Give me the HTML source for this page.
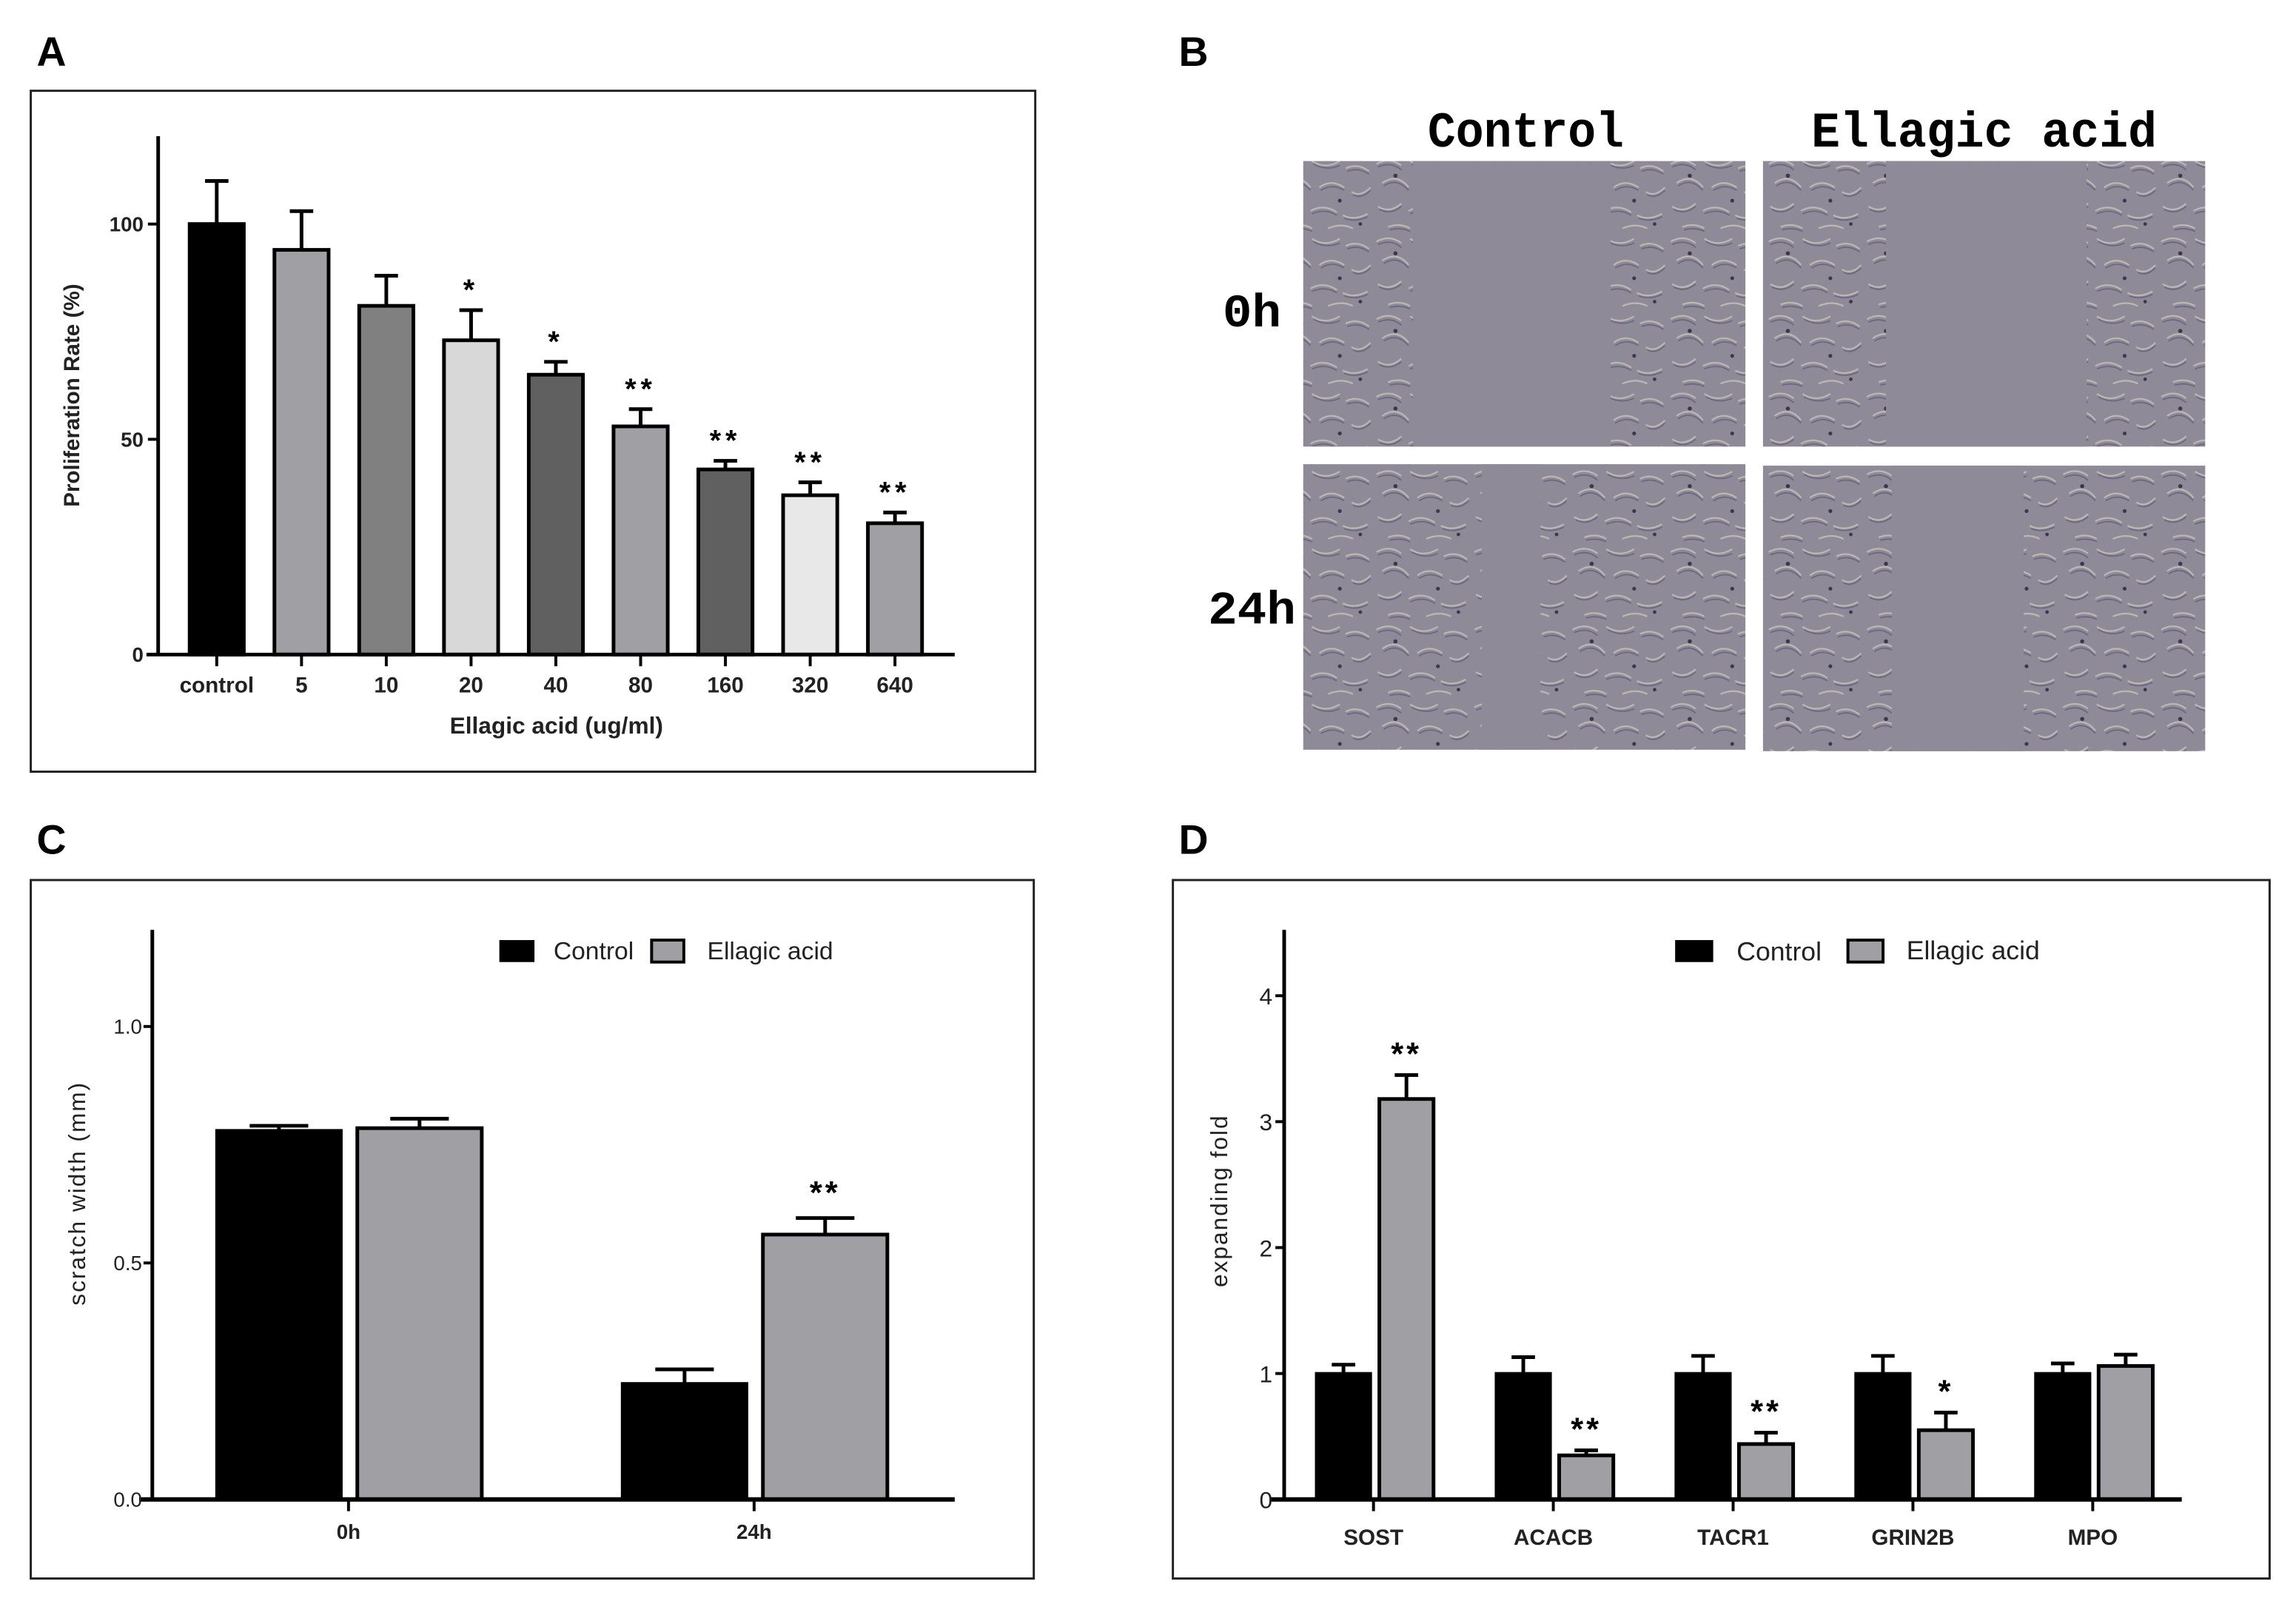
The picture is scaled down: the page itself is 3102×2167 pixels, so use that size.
<!DOCTYPE html>
<html><head><meta charset="utf-8"><style>
html,body{margin:0;padding:0;background:#fff;}
svg{display:block;}
text{font-family:"Liberation Sans",sans-serif;}
text.mono{font-family:"Liberation Mono",monospace;}
</style></head><body>
<svg id="fig" width="3102" height="2167" viewBox="0 0 1568 1095.4" xmlns="http://www.w3.org/2000/svg">
<defs>
<pattern id="cells" width="67" height="53" patternUnits="userSpaceOnUse">
<rect width="67" height="53" fill="#8f8a98"/>
<path d="M2 6 q9 -5 17 1 M25 4 q9 6 19 0 M48 9 q8 -4 16 2 M6 19 q10 -7 18 3 M30 22 q8 -6 17 0 M52 25 q6 4 13 -3 M3 35 q8 5 16 -2 M24 38 q9 -5 18 1 M46 41 q8 4 17 -1 M10 49 q8 -3 15 1 M36 50 q9 -4 17 0" stroke="#bdb9b0" stroke-width="1.1" fill="none"/>
<path d="M3 8 q9 -4 16 2 M26 6 q9 5 18 1 M49 11 q8 -3 15 2 M7 21 q9 -6 17 3 M31 24 q8 -5 16 0 M53 27 q6 3 12 -3 M4 37 q8 4 15 -2 M25 40 q9 -4 17 1 M47 43 q8 3 16 -1 M11 51 q8 -2 14 1" stroke="#6c6780" stroke-width="0.9" fill="none"/>
<circle cx="15" cy="14" r="1.4" fill="#3a3550"/><circle cx="44" cy="31" r="1.3" fill="#3a3550"/><circle cx="58" cy="47" r="1.2" fill="#3a3550"/>
</pattern>
</defs>
<g id="root"></g>
</svg>
<script>
const NS="http://www.w3.org/2000/svg";
const root=document.getElementById('root');
function mk(tag,attrs,parent,txt){const e=document.createElementNS(NS,tag);for(const k in attrs)e.setAttribute(k,attrs[k]);if(txt!==undefined)e.textContent=txt;(parent||root).appendChild(e);return e;}

// ---------- Panel A data ----------
const aCategories=["control","5","10","20","40","80","160","320","640"];
const aValues=[100,94,81,73,65,53,43,37,30.5];
const aErrors=[10,9,7,7,3,4,2,3,2.5];
const aStars=["","","","*","*","**","**","**","**"];
const aColors=["#000000","#a0a0a4","#808080","#d8d8d8","#606060","#a0a0a4","#606060","#e8e8e8","#a0a0a4"];
const aTicks=[0,50,100];

// ---------- Panel C data ----------
const cCategories=["0h","24h"];
const cControl=[0.78,0.245];
const cControlErr=[0.01,0.03];
const cEllagic=[0.785,0.56];
const cEllagicErr=[0.02,0.035];
const cStars=["","**"];
const cTicks=[0.0,0.5,1.0];
const cTickLabels=["0.0","0.5","1.0"];

// ---------- Panel D data ----------
const dCategories=["SOST","ACACB","TACR1","GRIN2B","MPO"];
const dControl=[1,1,1,1,1];
const dControlErr=[0.07,0.13,0.14,0.14,0.08];
const dEllagic=[3.18,0.35,0.44,0.55,1.06];
const dEllagicErr=[0.19,0.04,0.09,0.14,0.09];
const dStars=["**","**","**","*",""];
const dTicks=[0,1,2,3,4];

// Panel letters
[["A",25,45],["B",805,45],["C",25,583],["D",805,583]].forEach(p=>{
  const t=mk('text',{x:p[1],y:p[2],'font-size':28,'font-weight':'bold'},root,p[0]);
  
  
});

// Frames
[[21,62,686,465,'a'],[21,601,685,477,'c'],[801,601,749,477,'d']].forEach(f=>{
  const r=mk('rect',{x:f[0],y:f[1],width:f[2],height:f[3],fill:'none',stroke:'#222','stroke-width':1.5});
  
  
});

function errBar(g,cx,top,val,halfw){
  mk('line',{x1:cx,x2:cx,y1:top,y2:val,stroke:'#000','stroke-width':2.5},g);
  mk('line',{x1:cx-halfw,x2:cx+halfw,y1:top,y2:top,stroke:'#000','stroke-width':2.5},g);
}

// ---------- Panel A ----------
(function(){
  const g=mk('g',{});
  
  
  const y0=447,yTop=153,ax=108;
  const ys=v=>y0-(v/100)*(y0-yTop);
  const xs=i=>148+i*57.9;
  const bw=37;
  aValues.forEach((v,i)=>{
    const b=mk('rect',{x:xs(i)-bw/2,y:ys(v),width:bw,height:y0-ys(v),fill:aColors[i],stroke:'#000','stroke-width':2.5},g);
    
    
    errBar(g,xs(i),ys(v+aErrors[i]),ys(v),8);
    if(aStars[i]){const s=mk('text',{x:xs(i),y:ys(v+aErrors[i])-7,'text-anchor':'middle','font-size':20,'font-weight':'bold','letter-spacing':3},g,aStars[i]);
      }
    mk('line',{x1:xs(i),x2:xs(i),y1:y0,y2:y0+8,stroke:'#000','stroke-width':2},g);
    const l=mk('text',{x:xs(i),y:473,'text-anchor':'middle','font-size':15,'font-weight':'bold',fill:'#222'},g,aCategories[i]);
    
  });
  mk('line',{x1:ax,x2:ax,y1:93,y2:y0+1,stroke:'#000','stroke-width':2.5},g);
  mk('line',{x1:ax-8,x2:652,y1:y0,y2:y0,stroke:'#000','stroke-width':2.5},g);
  aTicks.forEach(t=>{
    mk('line',{x1:ax-7,x2:ax,y1:ys(t),y2:ys(t),stroke:'#000','stroke-width':2},g);
    const l=mk('text',{x:ax-10,y:ys(t)+5,'text-anchor':'end','font-size':14,'font-weight':'bold',fill:'#222'},g,String(t));
    
  });
  const yt=mk('text',{x:0,y:0,transform:'translate(54,270) rotate(-90)','text-anchor':'middle','font-size':15,'font-weight':'bold',fill:'#222'},g,'Proliferation Rate (%)');
  
  const xt=mk('text',{x:380,y:501,'text-anchor':'middle','font-size':16,'font-weight':'bold',fill:'#222'},g,'Ellagic acid (ug/ml)');
  
})();

// ---------- Panel B ----------
(function(){
  const g=mk('g',{});
  
  
  const h1=mk('text',{class:'mono',x:1042,y:100,'text-anchor':'middle','font-size':34,'font-weight':'bold',textLength:134,lengthAdjust:'spacingAndGlyphs'},g,'Control');
  
  const h2=mk('text',{class:'mono',x:1355,y:100,'text-anchor':'middle','font-size':34,'font-weight':'bold',textLength:236,lengthAdjust:'spacingAndGlyphs'},g,'Ellagic acid');
  
  const r1=mk('text',{class:'mono',x:855,y:223,'text-anchor':'middle','font-size':32,'font-weight':'bold',textLength:40,lengthAdjust:'spacingAndGlyphs'},g,'0h');
  
  const r2=mk('text',{class:'mono',x:855,y:426,'text-anchor':'middle','font-size':32,'font-weight':'bold',textLength:60,lengthAdjust:'spacingAndGlyphs'},g,'24h');
  
  const imgs=[[890,110,'control-0h',965,1100],[1204,110,'ellagic-0h',1288,1425],[890,317,'control-24h',1012,1052],[1204,318,'ellagic-24h',1292,1382]];
  imgs.forEach(m=>{
    const im=mk('g',{},g);
    
    
    mk('rect',{x:m[0],y:m[1],width:302,height:195,fill:'url(#cells)'},im);
    mk('rect',{x:m[3],y:m[1],width:m[4]-m[3],height:195,fill:'#8f8a98'},im);
  });
})();

// ---------- Panel C ----------
(function(){
  const g=mk('g',{});
  
  
  const y0=1024,y1=701,ax=104;
  const ys=v=>y0-v*(y0-y1);
  const cx=i=>238+i*277;
  const bw=85;
  cCategories.forEach((c,i)=>{
    const v=cControl[i],e=cEllagic[i];
    const b1=mk('rect',{x:cx(i)-90,y:ys(v),width:bw,height:y0-ys(v),fill:'#000',stroke:'#000','stroke-width':2},g);
    
    errBar(g,cx(i)-47.5,ys(v+cControlErr[i]),ys(v),20);
    const b2=mk('rect',{x:cx(i)+6,y:ys(e),width:bw,height:y0-ys(e),fill:'#a0a0a4',stroke:'#000','stroke-width':2.5},g);
    
    errBar(g,cx(i)+48.5,ys(e+cEllagicErr[i]),ys(e),20);
    if(cStars[i]){const s=mk('text',{x:cx(i)+48.5,y:ys(e+cEllagicErr[i])-10,'text-anchor':'middle','font-size':22,'font-weight':'bold','letter-spacing':2},g,cStars[i]);
      }
    mk('line',{x1:cx(i),x2:cx(i),y1:y0,y2:y0+8,stroke:'#000','stroke-width':2},g);
    const l=mk('text',{x:cx(i),y:1051,'text-anchor':'middle','font-size':14,'font-weight':'bold',fill:'#222'},g,c);
    
  });
  mk('line',{x1:ax,x2:ax,y1:635,y2:y0,stroke:'#000','stroke-width':2.5},g);
  mk('line',{x1:95,x2:652,y1:y0,y2:y0,stroke:'#000','stroke-width':3},g);
  cTicks.forEach((t,i)=>{
    mk('line',{x1:ax-6,x2:ax,y1:ys(t),y2:ys(t),stroke:'#000','stroke-width':2},g);
    const l=mk('text',{x:ax-7,y:ys(t)+5,'text-anchor':'end','font-size':14,fill:'#222'},g,cTickLabels[i]);
    
  });
  const yt=mk('text',{x:0,y:0,transform:'translate(58,815) rotate(-90)','text-anchor':'middle','font-size':16,fill:'#222','letter-spacing':1},g,'scratch width (mm)');
  
  const lg=mk('g',{},g);
  mk('rect',{x:341,y:642,width:24,height:15,fill:'#000'},lg);
  mk('text',{x:378,y:655,'font-size':17,fill:'#222'},lg,'Control');
  mk('rect',{x:445,y:642,width:22,height:15,fill:'#a0a0a4',stroke:'#000','stroke-width':2},lg);
  mk('text',{x:483,y:655,'font-size':17,fill:'#222'},lg,'Ellagic acid');
})();

// ---------- Panel D ----------
(function(){
  const g=mk('g',{});
  
  
  const y0=1024,ax=877,unit=86;
  const ys=v=>y0-v*unit;
  const cx=i=>938+i*122.8;
  const bw=37;
  dCategories.forEach((c,i)=>{
    const v=dControl[i],e=dEllagic[i];
    const b1=mk('rect',{x:cx(i)-39,y:ys(v),width:bw,height:y0-ys(v),fill:'#000',stroke:'#000','stroke-width':2},g);
    
    errBar(g,cx(i)-20.5,ys(v+dControlErr[i]),ys(v),8);
    const b2=mk('rect',{x:cx(i)+4,y:ys(e),width:bw,height:y0-ys(e),fill:'#a0a0a4',stroke:'#000','stroke-width':2.5},g);
    
    errBar(g,cx(i)+22.5,ys(e+dEllagicErr[i]),ys(e),8);
    if(dStars[i]){const s=mk('text',{x:cx(i)+22.5,y:ys(e+dEllagicErr[i])-7,'text-anchor':'middle','font-size':22,'font-weight':'bold','letter-spacing':2},g,dStars[i]);
      }
    mk('line',{x1:cx(i),x2:cx(i),y1:y0,y2:y0+8,stroke:'#000','stroke-width':2},g);
    const l=mk('text',{x:cx(i),y:1055,'text-anchor':'middle','font-size':15,'font-weight':'bold',fill:'#222'},g,c);
    
  });
  mk('line',{x1:ax,x2:ax,y1:635,y2:y0,stroke:'#000','stroke-width':2.5},g);
  mk('line',{x1:868,x2:1490,y1:y0,y2:y0,stroke:'#000','stroke-width':3},g);
  dTicks.forEach(t=>{
    mk('line',{x1:ax-6,x2:ax,y1:ys(t),y2:ys(t),stroke:'#000','stroke-width':2},g);
    const l=mk('text',{x:ax-8,y:ys(t)+6,'text-anchor':'end','font-size':16,fill:'#222'},g,String(t));
    
  });
  const yt=mk('text',{x:0,y:0,transform:'translate(838,820) rotate(-90)','text-anchor':'middle','font-size':16,fill:'#222','letter-spacing':1},g,'expanding fold');
  
  const lg=mk('g',{},g);
  mk('rect',{x:1144,y:642,width:26,height:15,fill:'#000'},lg);
  mk('text',{x:1186,y:656,'font-size':18,fill:'#222'},lg,'Control');
  mk('rect',{x:1262,y:642,width:24,height:15,fill:'#a0a0a4',stroke:'#000','stroke-width':2},lg);
  mk('text',{x:1302,y:655,'font-size':18,fill:'#222'},lg,'Ellagic acid');
})();
</script>
</body></html>
